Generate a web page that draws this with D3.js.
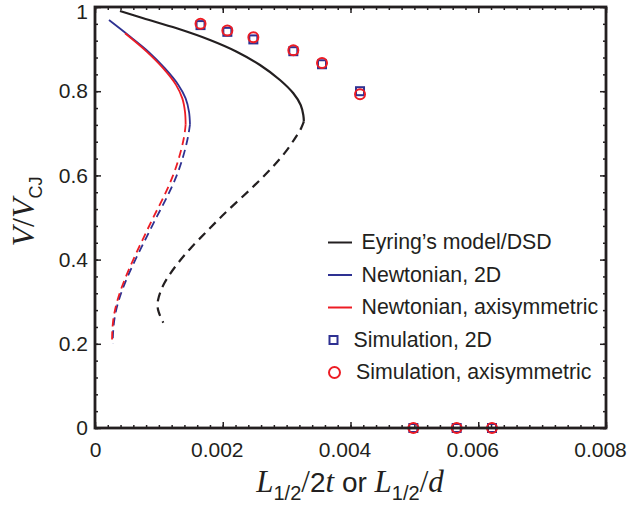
<!DOCTYPE html>
<html>
<head>
<meta charset="utf-8">
<script src="https://cdn.jsdelivr.net/npm/d3@7"></script>
<style>
  body { margin: 0; background: #fff; }
  svg { display: block; }
  .tick text { font-family: "Liberation Sans", Arial, sans-serif; font-size: 21px; fill: #231f20; }
</style>
</head>
<body>
<div class="graph"></div>
<script>
// values, [L1/2 / 2t , V/VCJ]
var eyringSolid = [
  [0.000391, 0.9905], [0.000756, 0.9732], [0.001279, 0.9494], [0.001800, 0.9216],
  [0.002218, 0.8938], [0.002583, 0.8622], [0.002896, 0.8266], [0.003105, 0.7950],
  [0.003220, 0.7672], [0.003261, 0.7435], [0.003270, 0.728]
];
var eyringDashed = [
  [0.003270, 0.728], [0.003230, 0.712], [0.003183, 0.700], [0.002975, 0.652], [0.002740, 0.613],
  [0.002505, 0.577], [0.002243, 0.540], [0.001984, 0.5036], [0.001774, 0.4703],
  [0.001514, 0.4311], [0.001279, 0.389], [0.001069, 0.344], [0.000966, 0.300],
  [0.000986, 0.276], [0.001069, 0.250]
];
var newton2dSolid = [
  [0.000219, 0.969], [0.000522, 0.933], [0.000835, 0.894], [0.001096, 0.854],
  [0.001305, 0.815], [0.001419, 0.783], [0.001472, 0.751], [0.001487, 0.721]
];
var newton2dDashed = [
  [0.001487, 0.721], [0.001461, 0.692], [0.001383, 0.644], [0.001279, 0.597],
  [0.001122, 0.546], [0.000966, 0.502], [0.000809, 0.454], [0.000653, 0.407],
  [0.000496, 0.356], [0.000365, 0.304], [0.000287, 0.252], [0.000277, 0.201]
];
var newtonAxiSolid = [
  [0.000470, 0.9375], [0.000809, 0.894], [0.001069, 0.854], [0.001268, 0.815],
  [0.001367, 0.783], [0.001409, 0.751], [0.001419, 0.721]
];
var newtonAxiDashed = [
  [0.001419, 0.721], [0.001401, 0.692], [0.001323, 0.644], [0.001221, 0.597],
  [0.001069, 0.546], [0.000916, 0.502], [0.000767, 0.454], [0.000618, 0.407],
  [0.000470, 0.356], [0.000344, 0.304], [0.000271, 0.252], [0.000266, 0.201]
];
var sim2d = [
  [0.001652, 0.957], [0.002072, 0.941], [0.002479, 0.923], [0.003105, 0.895],
  [0.003554, 0.864], [0.004149, 0.800], [0.004984, 0], [0.005662, 0], [0.006215, 0]
];
var simAxi = [
  [0.001652, 0.960], [0.002072, 0.944], [0.002479, 0.928], [0.003105, 0.897],
  [0.003554, 0.867], [0.004149, 0.793], [0.004984, 0], [0.005662, 0], [0.006215, 0]
];
var xTicks = [0, 0.002, 0.004, 0.006, 0.008];
var xTickLabels = ["0", "0.002", "0.004", "0.006", "0.008"];
var yTicks = [0, 0.2, 0.4, 0.6, 0.8, 1];
var yTickLabels = ["0", "0.2", "0.4", "0.6", "0.8", "1"];
var legendNames = ["Eyring\u2019s model/DSD", "Newtonian, 2D", "Newtonian, axisymmetric",
  "Simulation, 2D", "Simulation, axisymmetric"];

var black = "#231f20", blue = "#2e3192", red = "#ed1c24";
var margin = {left: 95, top: 7};
var width = 511;
var height = 421;

var svg = d3.select(".graph").append("svg")
  .attr("width", 627)
  .attr("height", 505);

var g = svg.append("g")
  .attr("transform", "translate(" + margin.left + "," + margin.top + ")");

var x = d3.scaleLinear().domain([0, 0.008]).range([0, width]);
var y = d3.scaleLinear().domain([0, 1]).range([height, 0]);

// minor ticks on all four sides
var xMinor = d3.range(0, 0.00801, 0.0002);
var yMinor = d3.range(0, 1.001, 0.04);
g.append("g").attr("transform", "translate(0," + height + ")")
  .call(d3.axisBottom(x).tickValues(xMinor).tickSize(-3).tickFormat(""));
g.append("g")
  .call(d3.axisTop(x).tickValues(xMinor).tickSize(-3).tickFormat(""));
g.append("g")
  .call(d3.axisLeft(y).tickValues(yMinor).tickSize(-3).tickFormat(""));
g.append("g").attr("transform", "translate(" + width + ",0)")
  .call(d3.axisRight(y).tickValues(yMinor).tickSize(-3).tickFormat(""));

// major ticks
var xAxis = d3.axisBottom(x).tickValues(xTicks).tickSize(-6).tickPadding(14)
  .tickFormat(function (d, i) { return xTickLabels[i]; });
var xAxisGroup = g.append("g").attr("class", "xAxisGroup")
  .attr("transform", "translate(0," + height + ")").call(xAxis);
// the original labels sit a little left of their ticks
xAxisGroup.selectAll(".tick text").attr("dx", (d, i) => i === 0 ? 0 : -6);
g.append("g").call(d3.axisTop(x).tickValues(xTicks).tickSize(-6).tickFormat(""));

var yAxis = d3.axisLeft(y).tickValues(yTicks).tickSize(-6).tickPadding(7)
  .tickFormat(function (d, i) { return yTickLabels[i]; });
var yAxisGroup = g.append("g").attr("class", "yAxisGroup").call(yAxis);
yAxisGroup.selectAll(".tick text").attr("dy", (d, i) => i === 5 ? "0.55em" : "0.32em");
g.append("g").attr("transform", "translate(" + width + ",0)")
  .call(d3.axisRight(y).tickValues(yTicks).tickSize(-6).tickFormat(""));

g.selectAll(".domain").remove();
g.selectAll(".tick line").attr("stroke", black).attr("stroke-width", 1.5);

// curves
var line = d3.line()
  .x(d => x(d[0]))
  .y(d => y(d[1]))
  .curve(d3.curveCatmullRom);
var smooth = d3.line()
  .x(d => x(d[0]))
  .y(d => y(d[1]))
  .curve(d3.curveBasis);

function curve(data, color, dash, w, gen) {
  g.append("path")
    .datum(data)
    .attr("fill", "none")
    .attr("stroke", color)
    .attr("stroke-width", w)
    .attr("stroke-dasharray", dash)
    .attr("d", gen);
}
curve(eyringSolid, black, null, 2.2, line);
curve(eyringDashed, black, "9,6", 2.2, smooth);
curve(newton2dSolid, blue, null, 1.8, line);
curve(newton2dDashed, blue, "8,5", 1.8, smooth);
curve(newtonAxiSolid, red, null, 1.8, line);
curve(newtonAxiDashed, red, "8,5", 1.8, smooth);

// simulation markers
g.selectAll(".sq").data(sim2d).enter().append("rect")
  .attr("x", d => x(d[0]) - 4)
  .attr("y", d => y(d[1]) - 4)
  .attr("width", 8).attr("height", 8)
  .attr("fill", "none").attr("stroke", blue).attr("stroke-width", 2);
g.selectAll(".ci").data(simAxi).enter().append("circle")
  .attr("cx", d => x(d[0]))
  .attr("cy", d => y(d[1]))
  .attr("r", 5)
  .attr("fill", "none").attr("stroke", red).attr("stroke-width", 2);

// frame
g.append("rect")
  .attr("width", width).attr("height", height)
  .attr("fill", "none").attr("stroke", black).attr("stroke-width", 2.8);

// legend
var legend = svg.append("g").attr("transform", "translate(328,242.5)");
var legendColors = [black, blue, red];
legendNames.forEach(function (name, i) {
  var row = legend.append("g").attr("transform", "translate(0," + (i * 32.5) + ")");
  if (i < 3) {
    row.append("line").attr("x1", 0).attr("x2", 24).attr("y1", 0).attr("y2", 0)
      .attr("stroke", legendColors[i]).attr("stroke-width", 2);
  } else if (i === 3) {
    row.append("rect").attr("x", 1.5).attr("y", -4).attr("width", 8).attr("height", 8)
      .attr("fill", "none").attr("stroke", blue).attr("stroke-width", 2);
  } else {
    row.append("circle").attr("cx", 6.5).attr("cy", 0).attr("r", 5.5)
      .attr("fill", "none").attr("stroke", red).attr("stroke-width", 2);
  }
  row.append("text")
    .attr("x", i < 3 ? 33.5 : (i === 3 ? 25.5 : 28))
    .attr("y", 6.5)
    .attr("fill", black)
    .style("font-family", "'Liberation Sans', Arial, sans-serif")
    .style("font-size", "21.3px")
    .text(name);
});

// axis titles
var serif = "'Liberation Serif', 'Times New Roman', serif";
var sans = "'Liberation Sans', Arial, sans-serif";
function part(t, txt, fam, style, size, dy) {
  t.append("tspan").style("font-family", fam).style("font-style", style)
    .style("font-size", size).attr("dy", dy).text(txt);
}
var xt = svg.append("text")
  .attr("x", 350).attr("y", 492)
  .attr("text-anchor", "middle")
  .attr("fill", black);
part(xt, "L", serif, "italic", "31px", 0);
part(xt, "1/2", sans, "normal", "20px", 8);
part(xt, "/", serif, "normal", "31px", -8);
part(xt, "2", sans, "normal", "28px", 0);
part(xt, "t", serif, "italic", "31px", 0);
part(xt, " or ", sans, "normal", "28px", 0);
part(xt, "L", serif, "italic", "31px", 0);
part(xt, "1/2", sans, "normal", "20px", 8);
part(xt, "/", serif, "normal", "31px", -8);
part(xt, "d", serif, "italic", "31px", 0);

var yt = svg.append("text")
  .attr("transform", "translate(33.5,211.5) rotate(-90)")
  .attr("text-anchor", "middle")
  .attr("fill", black);
part(yt, "V", serif, "italic", "32px", 0);
part(yt, "/", serif, "normal", "32px", 0);
part(yt, "V", serif, "italic", "32px", 0);
part(yt, "CJ", sans, "normal", "18px", 8);
</script>
</body>
</html>
